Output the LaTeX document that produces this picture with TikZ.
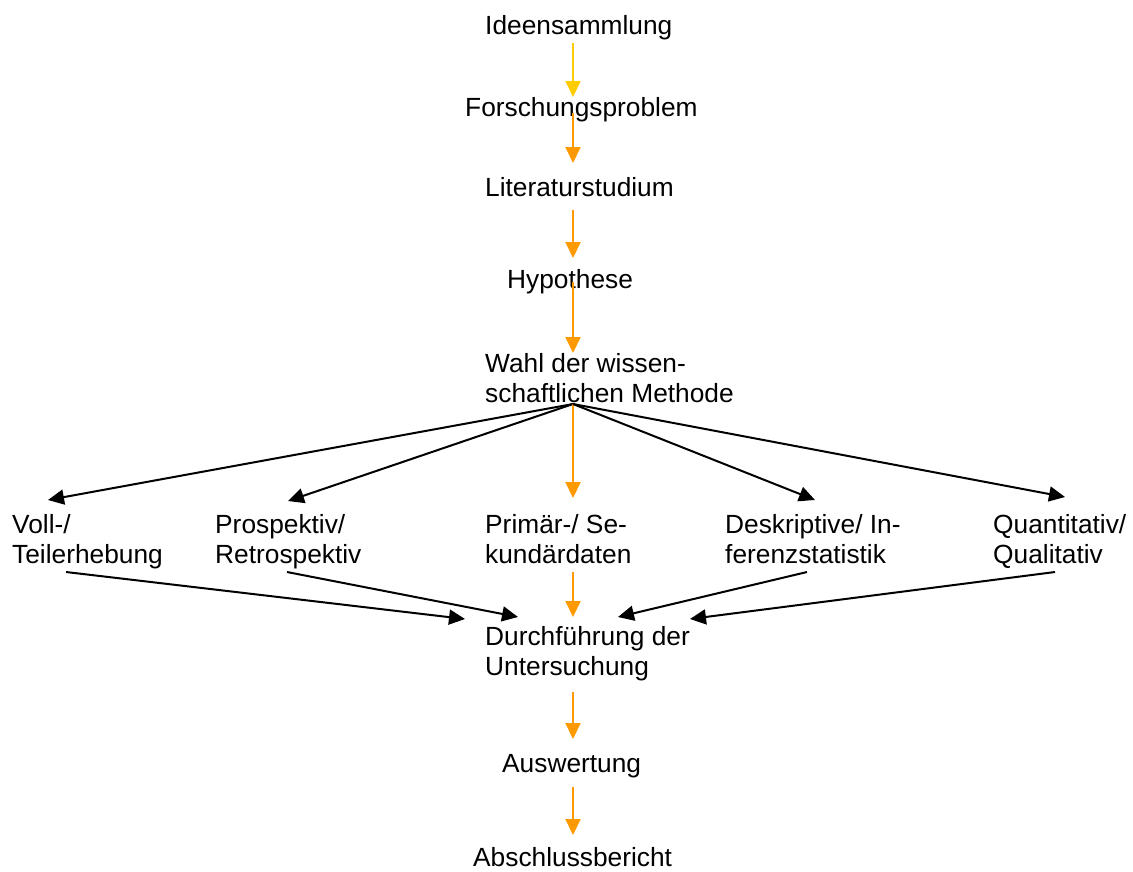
\documentclass[tikz,border=0pt]{standalone}
\usepackage{fontspec}
\setmainfont{Liberation Sans}
\usetikzlibrary{arrows.meta}
\definecolor{ygold}{RGB}{255,204,0}
\definecolor{aorange}{RGB}{255,153,0}
\tikzset{
  lbl/.style={anchor=base west, inner sep=0pt, align=left, font=\fontsize{26.3}{30}\selectfont},
  flow/.style={draw=aorange, line width=2pt, -{Triangle[length=16pt,width=15pt]}},
  first/.style={flow, draw=ygold},
  fan/.style={draw=black, line width=2pt, -{Triangle[length=16pt,width=15pt]}}
}
\begin{document}
\begin{tikzpicture}[x=1pt,y=-1pt]
\useasboundingbox (0,0) rectangle (1133,871);
% main column
\node[lbl] (ideen) at (485,34) {Ideensammlung};
\node[lbl] (forsch) at (465,116) {Forschungsproblem};
\node[lbl] (lit) at (485,196) {Literaturstudium};
\node[lbl] (hyp) at (507,288) {Hypothese};
\node[lbl] (wahl) at (485,402) {Wahl der wissen-\\schaftlichen Methode};
% row
\node[lbl] (voll) at (12,563) {Voll-/\\Teilerhebung};
\node[lbl] (prosp) at (215,563) {Prospektiv/\\Retrospektiv};
\node[lbl] (prim) at (485,563) {Primär-/ Se-\\kundärdaten};
\node[lbl] (desk) at (725,563) {Deskriptive/ In-\\ferenzstatistik};
\node[lbl] (quant) at (993,563) {Quantitativ/\\Qualitativ};
% lower column
\node[lbl] (durch) at (485,675) {Durchführung der\\Untersuchung};
\node[lbl] (ausw) at (502,772) {Auswertung};
\node[lbl] (absch) at (473,866) {Abschlussbericht};
% connector end points
\coordinate (a1) at (573,43);   \coordinate (b1) at (573,97);
\coordinate (a2) at (573,113);  \coordinate (b2) at (573,163);
\coordinate (a3) at (573,210);  \coordinate (b3) at (573,258);
\coordinate (a4) at (573,282);  \coordinate (b4) at (573,353);
\coordinate (fanpt) at (573,404);
\coordinate (tvoll) at (48,500);
\coordinate (tprosp) at (288,501);
\coordinate (tprim) at (573,498);
\coordinate (tdesk) at (815,500);
\coordinate (tquant) at (1065,497);
\coordinate (svoll) at (66,572);
\coordinate (sprosp) at (287,572);
\coordinate (sprim) at (573,572);
\coordinate (sdesk) at (807,572);
\coordinate (squant) at (1055,572);
\coordinate (evoll) at (465,619);
\coordinate (eprosp) at (518,617);
\coordinate (eprim) at (573,617);
\coordinate (edesk) at (618,617);
\coordinate (equant) at (690,619);
\coordinate (a5) at (573,692);  \coordinate (b5) at (573,739);
\coordinate (a6) at (573,787);  \coordinate (b6) at (573,835);
% connectors
\draw[first] (a1) -- (b1);
\draw[flow] (a2) -- (b2);
\draw[flow] (a3) -- (b3);
\draw[flow] (a4) -- (b4);
\draw[fan] (fanpt) -- (tvoll);
\draw[fan] (fanpt) -- (tprosp);
\draw[flow] (fanpt) -- (tprim);
\draw[fan] (fanpt) -- (tdesk);
\draw[fan] (fanpt) -- (tquant);
\draw[fan] (svoll) -- (evoll);
\draw[fan] (sprosp) -- (eprosp);
\draw[flow] (sprim) -- (eprim);
\draw[fan] (sdesk) -- (edesk);
\draw[fan] (squant) -- (equant);
\draw[flow] (a5) -- (b5);
\draw[flow] (a6) -- (b6);
\end{tikzpicture}
\end{document}
